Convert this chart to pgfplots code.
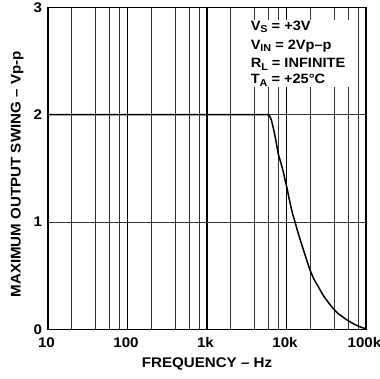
\documentclass[border=0pt]{standalone}
\usepackage{fontspec}
\setmainfont{Liberation Sans}[FakeStretch=1.08]
\usepackage{pgfplots}
\pgfplotsset{compat=1.18}
\newcommand\sub[1]{\raisebox{-2.6pt}{\fontsize{10}{10}\selectfont #1}}
\begin{document}
\begin{tikzpicture}
\begin{axis}[
  at={(0,0)}, anchor=south west,
  scale only axis, width=318pt, height=322pt,
  xmode=log, xmin=10, xmax=100000, ymin=0, ymax=3,
  xtick={10,100,1000,10000,100000},
  xticklabels={10,100,1k,10k,100k\hspace{6pt}},
  minor xtick={20,40,60,80,200,400,600,800,2000,4000,6000,8000,20000,40000,60000,80000},
  ytick={0,1,2,3}, yticklabels={0,1,2,3},
  xmajorgrids, xminorgrids, ymajorgrids,
  major x grid style={black, line width=1.3pt},
  minor x grid style={black!80, line width=0.9pt},
  major y grid style={black!80, line width=0.9pt},
  major tick length=0pt, minor tick length=0pt,
  axis line style={line width=1.6pt},
  tick label style={font=\bfseries\fontsize{14}{14}\selectfont},
  xticklabel style={anchor=base, yshift=-18.4pt, xshift=-1.5pt},
  yticklabel style={xshift=-2.5pt},
  xlabel={FREQUENCY – Hz},
  ylabel={MAXIMUM OUTPUT SWING – Vp-p},
  label style={font=\bfseries\fontsize{14}{14}\selectfont},
  xlabel style={at={(axis description cs:0.5,-0.119)}, anchor=base},
  ylabel style={at={(axis description cs:-0.0858,0.481)}, anchor=base},
]
\addplot[black, line width=1.5pt] coordinates {
(10,2.0) (5800,2.0) (6000,1.995) (6200,1.98) (6450,1.95) (6700,1.90) (7000,1.84) (7300,1.77) (7600,1.70) (7900,1.63)
(8500,1.55) (9100,1.47) (9600,1.39) (10200,1.31) (10700,1.23) (11300,1.15) (12000,1.07) (12800,1.00) (13600,0.93) (14500,0.86) (15700,0.78) (17000,0.70)
(18400,0.62) (19800,0.55) (22000,0.47) (25000,0.40) (27500,0.345) (30000,0.30) (34000,0.245) (39000,0.19) (44000,0.15) (50000,0.12) (56000,0.093) (63000,0.07)
(71000,0.048) (80000,0.03) (90000,0.015) (100000,0.005)
};
\fill[white] (rel axis cs:0.582,0.753) rectangle (rel axis cs:0.975,0.96);
\begin{scope}[every node/.style={anchor=base west, inner sep=0pt, font=\bfseries\fontsize{13.5}{13.5}\selectfont}]
\node at (rel axis cs:0.637,0.9295) {V\sub{S} = +3V};
\node at (rel axis cs:0.637,0.8705) {V\sub{IN} = 2Vp–p};
\node at (rel axis cs:0.637,0.813) {R\sub{L} = INFINITE};
\node at (rel axis cs:0.637,0.7634) {T\sub{A} = +25°C};
\end{scope}
\end{axis}
\pgfresetboundingbox
\useasboundingbox (-48pt,-48.7pt) rectangle (332pt,329.3pt);
\end{tikzpicture}
\end{document}
